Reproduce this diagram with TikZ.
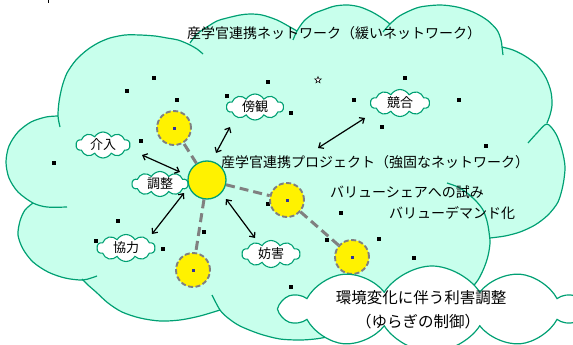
\documentclass[tikz,border=0pt]{standalone}
\usepackage{fontspec}
\setmainfont{Noto Sans CJK JP}
\usetikzlibrary{shapes.symbols,shapes.geometric,arrows.meta}
\definecolor{mint}{RGB}{200,255,236}
\definecolor{tealline}{RGB}{0,160,115}
\definecolor{dashgray}{RGB}{128,128,128}
\definecolor{cdot}{RGB}{51,51,153}
\begin{document}
\begin{tikzpicture}[x=1pt,y=-1pt,
  outl/.style={draw=tealline, line width=1.2pt},
  lbl/.style={cloud, cloud puffs=10, cloud puff arc=120, cloud ignores aspect, draw=tealline, line width=1.1pt, fill=white, inner sep=0pt, font=\fontsize{13}{13}\selectfont},
  hubst/.style={circle, fill=yellow, draw=tealline, line width=1.3pt, minimum size=38pt, inner sep=0pt},
  satst/.style={circle, fill=yellow, draw=dashgray, dash pattern=on 5pt off 2.5pt, line width=1.9pt, minimum size=34pt, inner sep=0pt},
  cen/.style={rectangle, fill=cdot, minimum size=3pt, inner sep=0pt},
  dotsq/.style={rectangle, fill=black, minimum size=4pt, inner sep=0pt},
  link/.style={draw=dashgray, line width=3pt, dash pattern=on 9pt off 5pt},
  dbl/.style={draw=black, line width=1.2pt, {Straight Barb[length=4pt,width=7pt]}-{Straight Barb[length=4pt,width=7pt]}},
  txt/.style={font=\fontsize{14}{14}\selectfont, inner sep=0pt},
  txtb/.style={font=\fontsize{15.5}{15.5}\selectfont, inner sep=0pt},
]
\useasboundingbox (0,0) rectangle (573,345);

% big cloud fill
\fill[mint]
 plot[smooth] coordinates {(83,280) (65,278) (48,272) (33,262) (23,249) (18,235) (20,221) (25,210) (33,203)}
 -- plot[smooth] coordinates {(33,203) (18,192) (9,178) (6,162) (9,146) (18,132) (31,122) (46,117) (58,116)}
 -- plot[smooth] coordinates {(58,116) (59,102) (62,87) (67,73) (76,60) (87,50) (98,43) (110,38) (125,35) (140,35) (155,36) (167,38) (178,40) (188,44)}
 -- plot[smooth] coordinates {(190,43) (197,34) (207,27) (217,21) (227,18) (240,15) (250,14) (262,15) (277,20) (290,27) (297,31)}
 -- plot[smooth] coordinates {(297,31) (304,21) (313,14) (323,10) (335,6) (348,5) (360,7) (372,12) (382,18) (390,24)}
 -- plot[smooth] coordinates {(390,24) (398,17) (407,12) (420,7) (440,5) (457,7) (473,12) (487,20) (497,30) (501,40) (502,47)}
 -- plot[smooth] coordinates {(502,47) (513,50) (525,56) (537,65) (546,78) (551,92) (552,105) (550,115) (547,123)}
 -- plot[smooth] coordinates {(547,124) (556,134) (562,150) (565,167) (563,185) (558,202) (548,215) (535,225) (520,232) (505,236) (490,238)}
 -- plot[smooth] coordinates {(490,238) (490,243) (488,256) (484,268) (478,280) (470,290)}
 -- (420,315)
 -- plot[smooth] coordinates {(385,320) (365,327) (345,333) (327,337) (315,339) (300,340) (280,339) (260,334) (240,326) (228,318) (220,310)}
 -- plot[smooth] coordinates {(220,310) (200,316) (180,320) (160,321) (140,318) (122,312) (108,303) (96,292) (88,285) (83,280)}
 -- cycle;

% big cloud outline lobes (with creases)
\draw[outl] plot[smooth] coordinates {(97,276) (83,280) (65,278) (48,272) (33,262) (23,249) (18,235) (20,221) (25,210) (33,203)};
\draw[outl] plot[smooth] coordinates {(67,207) (47,207) (33,203) (18,192) (9,178) (6,162) (9,146) (18,132) (31,122) (46,117) (58,116)};
\draw[outl] plot[smooth] coordinates {(60,127) (58,116) (59,102) (62,87) (67,73) (76,60) (87,50) (98,43) (110,38) (125,35) (140,35) (155,36) (167,38) (178,40) (188,44) (197,49) (203,54)};
\draw[outl] plot[smooth] coordinates {(190,43) (197,34) (207,27) (217,21) (227,18) (240,15) (250,14) (262,15) (277,20) (290,27) (297,31)};
\draw[outl] plot[smooth] coordinates {(293,40) (297,31) (304,21) (313,14) (323,10) (335,6) (348,5) (360,7) (372,12) (382,18) (390,24)};
\draw[outl] plot[smooth] coordinates {(383,32) (390,24) (398,17) (407,12) (420,7) (440,5) (457,7) (473,12) (487,20) (497,30) (501,40) (502,47) (503,55)};
\draw[outl] plot[smooth] coordinates {(502,47) (513,50) (525,56) (537,65) (546,78) (551,92) (552,105) (550,115) (547,123)};
\draw[outl] plot[smooth] coordinates {(528,143) (537,133) (547,124) (556,134) (562,150) (565,167) (563,185) (558,202) (548,215) (535,225) (520,232) (505,236) (490,238)};
\draw[outl] plot[smooth] coordinates {(447,183) (458,187) (467,193) (476,201) (483,210) (487,221) (489,232) (490,243) (488,256) (484,268) (478,280) (470,290)};
\draw[outl] plot[smooth] coordinates {(212,295) (220,310) (228,318) (240,326) (260,334) (280,339) (300,340) (315,339) (327,337) (345,333) (365,327) (385,320)};
\draw[outl] plot[smooth] coordinates {(220,310) (200,316) (180,320) (160,321) (140,318) (122,312) (108,303) (96,292) (88,285) (82,279)};

% tiny mark at top
\coordinate (tm1) at (48,0);
\coordinate (tm2) at (48,3);
\draw[line width=1pt] (tm1) -- (tm2);

% scattered dots
\foreach \p [count=\i] in {(154,78),(127,91),(177,100),(268,82),(227,96),(141,141),(54,163),(291,113),(405,78),(354,100),(459,100),(382,127),(486,146),(118,221),(96,241),(163,249),(204,232),(268,204),(341,213),(327,240),(379,239),(414,258),(291,287)}
  \node[dotsq] (d\i) at \p {};
\node[star, star points=5, star point ratio=2.4, draw, line width=0.5pt, fill=white, minimum size=7pt, inner sep=0pt] (st) at (318,80) {};

% texts
\node[txt] (title) at (334,33) {産学官連携ネットワーク（緩いネットワーク）};
\node[txt, anchor=west] (proj) at (221,162) {産学官連携プロジェクト（強固なネットワーク）};
\node[txt, anchor=west] (vs) at (330,192) {バリューシェアへの試み};
\node[txt, anchor=west] (vd) at (389,213) {バリューデマンド化};

% label clouds
\node[lbl, minimum width=54pt, minimum height=26pt] (kainyu) at (103,145) {介入};
\node[lbl, minimum width=57pt, minimum height=26pt] (boukan) at (255,107) {傍観};
\node[lbl, minimum width=59pt, minimum height=27pt] (kyougou) at (400,103) {競合};
\node[lbl, minimum width=56pt, minimum height=25pt] (chousei) at (160,184) {調整};
\node[lbl, minimum width=58pt, minimum height=27pt] (kyouryoku) at (126,248) {協力};
\node[lbl, minimum width=58pt, minimum height=27pt] (bougai) at (271,254) {妨害};

% hub and satellites
\node[hubst] (hub) at (207,180) {};
\node[satst] (c1) at (174,128) {};
\node[satst] (c2) at (287,200) {};
\node[satst] (c3) at (193,270) {};
\node[satst] (c4) at (352,257) {};
\node[cen] (m1) at (174,128) {};
\node[cen] (m2) at (287,200) {};
\node[cen] (m3) at (193,270) {};
\node[cen] (m4) at (352,257) {};
\draw[link] (hub) -- (c1);
\draw[link] (hub) -- (c2);
\draw[link] (hub) -- (c3);
\draw[link] (c2) -- (c4);

% arrows
\coordinate (a1s) at (142,155); \coordinate (a1e) at (180,172);
\coordinate (a2s) at (230,127); \coordinate (a2e) at (216,153);
\coordinate (a3s) at (184,193); \coordinate (a3e) at (152,234);
\coordinate (a4s) at (226,199); \coordinate (a4e) at (255,238);
\coordinate (a5s) at (365,118); \coordinate (a5e) at (318,148);
\draw[dbl] (a1s) -- (a1e);
\draw[dbl] (a2s) -- (a2e);
\draw[dbl] (a3s) -- (a3e);
\draw[dbl] (a4s) -- (a4e);
\draw[dbl] (a5s) -- (a5e);

% bottom-right cloud
\node[cloud, cloud puffs=10, cloud puff arc=115, cloud ignores aspect, draw=tealline, line width=1.2pt, fill=white, minimum width=300pt, minimum height=86pt, inner sep=0pt] (env) at (432,309) {};
\node[txtb] (envt1) at (421,298) {環境変化に伴う利害調整};
\node[txtb] (envt2) at (418,322) {（ゆらぎの制御）};
\end{tikzpicture}
\end{document}
